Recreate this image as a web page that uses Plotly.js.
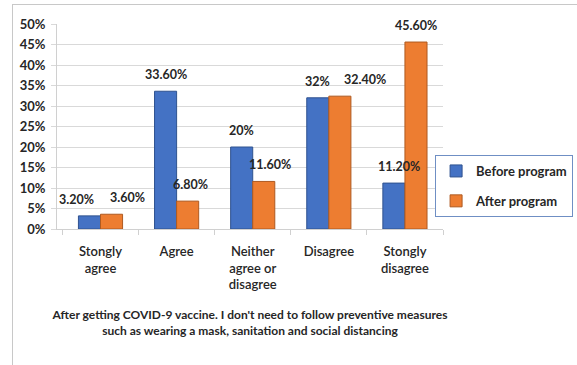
<!DOCTYPE html>
<html>
<head>
<meta charset="utf-8">
<script src="https://cdn.plot.ly/plotly-3.0.1.min.js"></script>
<style>
  html, body { margin: 0; padding: 0; background: #fff; }
  #wrap { position: relative; width: 577px; height: 365px; overflow: hidden; }
  #chart { position: absolute; left: 0; top: 0; width: 577px; height: 365px; }
  #frame { position: absolute; left: 12px; top: 4px; width: 600px; height: 400px;
           border-left: 1px solid #c8c8c8; border-top: 1px solid #c8c8c8; pointer-events: none; }
</style>
</head>
<body>
<div id="wrap">
  <div id="chart"></div>
  <div id="frame"></div>
</div>
<script>
// ---- data ----
const categories = ["Stongly<br>agree", "Agree", "Neither<br>agree or<br>disagree", "Disagree", "Stongly<br>disagree"];
const beforeProgram = [0.032, 0.336, 0.20, 0.32, 0.112];
const afterProgram = [0.036, 0.068, 0.116, 0.324, 0.456];
const beforeLabels = ["3.20%", "33.60%", "20%", "32%", "11.20%"];
const afterLabels = ["3.60%", "6.80%", "11.60%", "32.40%", "45.60%"];
const seriesNames = ["Before program", "After program"];
const xTitle = "After getting COVID-9 vaccine. I don't need to follow preventive measures<br>such as wearing a mask, sanitation and social distancing";

// ---- style ----
const FONT = "Lato, 'Liberation Sans', sans-serif";
const beforeNudge = [-13, 0, 0, 0, 5];
const afterNudge = [16, 3, 6, 25, 0];
const barOffset = 11;

const traces = [
  { type: "bar", name: seriesNames[0], x: categories, y: beforeProgram, legendgroup: "a",
    marker: { color: "#4472C4", line: { color: "#2F528F", width: 1 } }, hoverinfo: "skip" },
  { type: "bar", name: seriesNames[1], x: categories, y: afterProgram, legendgroup: "b",
    marker: { color: "#ED7D31", line: { color: "#AE5A21", width: 1 } }, hoverinfo: "skip" }
];

const annotations = [];
categories.forEach((c, i) => {
  annotations.push({ x: c, y: beforeProgram[i], xref: "x", yref: "y", text: beforeLabels[i],
    showarrow: false, yanchor: "bottom", xanchor: "center", xshift: -barOffset + beforeNudge[i], yshift: 7,
    font: { family: FONT, size: 12.5, color: "#262626", weight: 700 } });
  annotations.push({ x: c, y: afterProgram[i], xref: "x", yref: "y", text: afterLabels[i],
    showarrow: false, yanchor: "bottom", xanchor: "center", xshift: barOffset + afterNudge[i], yshift: 7,
    font: { family: FONT, size: 12.5, color: "#262626", weight: 700 } });
});

const layout = {
  width: 577, height: 365,
  margin: { l: 57, r: 134, t: 24, b: 136, autoexpand: false },
  paper_bgcolor: "rgba(0,0,0,0)", plot_bgcolor: "#fff",
  font: { family: FONT, color: "#262626" },
  barmode: "group", bargap: 0.42, bargroupgap: 0,
  showlegend: true,
  legend: { x: 1.337, y: 0.361, xanchor: "right", yanchor: "top",
    bordercolor: "#6f8fc4", borderwidth: 1, bgcolor: "#fff", itemwidth: 30,
    font: { family: FONT, size: 13, color: "#262626", weight: 700 }, tracegroupgap: 10 },
  xaxis: {
    type: "category", showgrid: false, showline: true, linecolor: "#d0d0d0", linewidth: 1,
    ticks: "outside", tickson: "boundaries", ticklen: 5, tickcolor: "#d0d0d0",
    ticklabelstandoff: 10,
    tickfont: { family: FONT, size: 13, color: "#262626", weight: 600 },
    title: { text: xTitle, font: { family: FONT, size: 12, color: "#262626", weight: 700 }, standoff: 19 }
  },
  yaxis: {
    range: [0, 0.5], dtick: 0.05, tickformat: ".0%",
    showgrid: true, gridcolor: "#d9d9d9", gridwidth: 1,
    showline: true, linecolor: "#d0d0d0", zeroline: false,
    ticks: "outside", ticklen: 5, tickcolor: "#d9d9d9", ticklabelstandoff: 3,
    tickfont: { family: FONT, size: 13, color: "#262626", weight: 700 }
  },
  annotations: annotations
};

Plotly.newPlot("chart", traces, layout, { displayModeBar: false, staticPlot: true });
</script>
</body>
</html>
